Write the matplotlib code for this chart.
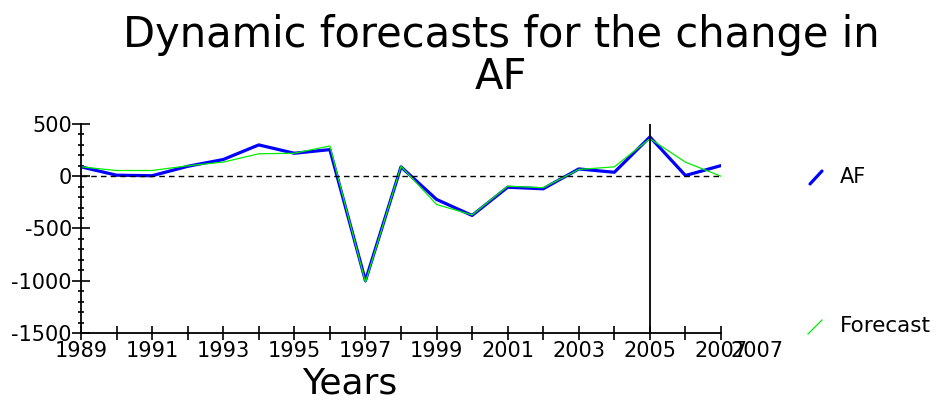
import matplotlib
matplotlib.use("Agg")
import matplotlib.pyplot as plt
from matplotlib.lines import Line2D
from matplotlib.ticker import MultipleLocator

years = list(range(1989, 2008))
af = [90, 10, 5, 95, 160, 300, 220, 255, -1000, 90, -222, -375, -105, -120, 70, 38, 376, 7, 102]
forecast = [90, 55, 55, 100, 135, 215, 220, 290, -1015, 95, -270, -370, -95, -110, 65, 90, 360, 135, 0]
forecast_start = 2005


def main():
    plt.rcParams['font.family'] = ['DejaVu Sans']
    fig = plt.figure(figsize=(9.37, 4.11), dpi=100)
    ax = fig.add_axes([0.0864, 0.1898, 0.6831, 0.5085])

    ax.plot(years, af, color='#0000ff', lw=2.3, solid_capstyle='round')
    ax.plot(years, forecast, color='#00ee00', lw=0.9)
    ax.axhline(0, color='black', lw=1, ls=(0, (4, 3)))
    ax.axvline(forecast_start, color='black', lw=1.3)

    ax.set_xlim(1989, 2007)
    ax.set_ylim(-1500, 500)
    for s in ['top', 'right']:
        ax.spines[s].set_visible(False)
    ax.spines['left'].set_linewidth(1.3)
    ax.spines['bottom'].set_linewidth(1.3)

    ax.set_xticks(years)
    ax.set_xticklabels([str(y) if y % 2 == 1 else '' for y in years], fontsize=15)
    ax.yaxis.set_major_locator(MultipleLocator(500))
    ax.yaxis.set_minor_locator(MultipleLocator(100))
    ax.tick_params(axis='y', which='major', direction='inout', length=13, width=1.2,
                   labelsize=15, pad=0)
    ax.tick_params(axis='y', which='minor', direction='inout', length=5, width=1.2)
    ax.tick_params(axis='x', which='major', direction='inout', length=10, width=1.2, pad=1)
    ax.set_yticklabels([str(int(v)) for v in ax.get_yticks()])
    # the extra overlapping last label as in the original
    fig.text(757 / 937, 0.1898 - 0.019, '2007', fontsize=15, ha='center', va='top')

    ax.set_xlabel('Years', fontsize=26, labelpad=4, x=0.42)
    fig.text(0.535, 0.965, 'Dynamic forecasts for the change in\nAF', fontsize=30,
             ha='center', va='top', linespacing=1.0)

    # legend on the right
    fig.add_artist(Line2D([810 / 937, 822 / 937], [1 - 184 / 411, 1 - 171 / 411],
                          color='#0000ff', lw=2.3, transform=fig.transFigure,
                          solid_capstyle='round'))
    fig.text(840 / 937, 1 - 177 / 411, 'AF', fontsize=15, va='center')
    fig.add_artist(Line2D([808 / 937, 822 / 937], [1 - 334 / 411, 1 - 320 / 411],
                          color='#00ee00', lw=0.9, transform=fig.transFigure))
    fig.text(840 / 937, 1 - 326 / 411, 'Forecast', fontsize=15.5, va='center')

    fig.savefig('out.png', dpi=100)


if __name__ == "__main__":
    main()
